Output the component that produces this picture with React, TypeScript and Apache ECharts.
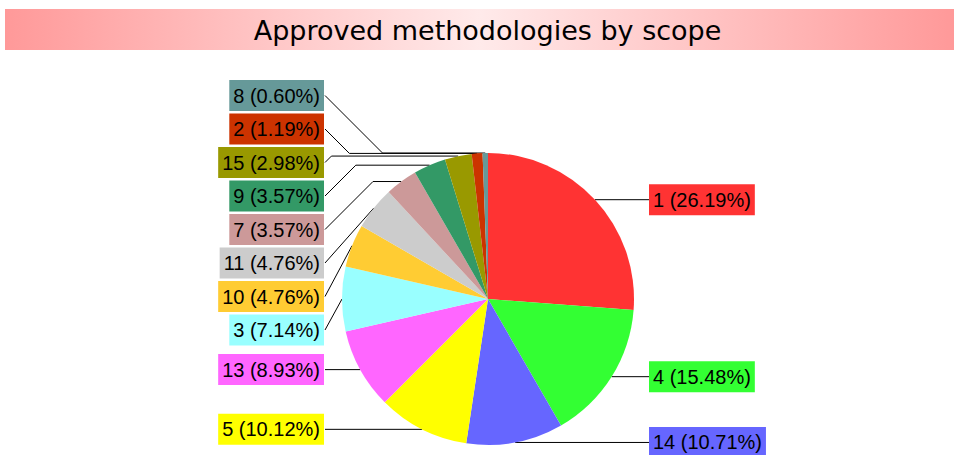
import React, { useEffect, useRef } from "react";
import * as echarts from "echarts";

const titleText = "Approved methodologies by scope";
const categories = ["1", "4", "14", "5", "13", "3", "10", "11", "7", "9", "15", "2", "8"];
const counts = [44, 26, 18, 17, 15, 12, 8, 8, 6, 6, 5, 2, 1];
const colors = [
  "#ff3333", "#33ff33", "#6666ff", "#ffff00", "#ff66ff", "#99ffff", "#ffcc33",
  "#cccccc", "#cc9999", "#339966", "#999900", "#cc3300", "#669999",
];

const W = 954;
const H = 455;
const CX = 488;
const CY = 299;
const R = 146;
const STEP = 33.5;
const LABEL_TOP = 95.5;
const LEFT_GAP = 18;
const RIGHT_GAP = 15;

type Item = { i: number; ex: number; ey: number; left: boolean; y: number };

function computeLayout() {
  const total = counts.reduce((a, b) => a + b, 0);
  let acc = 0;
  const items: Item[] = counts.map((v, i) => {
    const mid = ((acc + v / 2) / total) * Math.PI * 2;
    acc += v;
    const ex = CX + R * Math.sin(mid);
    const ey = CY - R * Math.cos(mid);
    return { i, ex, ey, left: ex < CX - 0.01, y: ey };
  });
  for (const side of [true, false]) {
    const list = items.filter((it) => it.left === side).sort((a, b) => a.ey - b.ey);
    const groups = list.map((it) => ({ items: [it], top: 0 }));
    const place = (g: { items: Item[]; top: number }) => {
      let s = 0;
      g.items.forEach((it, k) => (s += it.ey - k * STEP));
      g.top = Math.max(s / g.items.length, LABEL_TOP);
    };
    groups.forEach(place);
    let merged = true;
    while (merged) {
      merged = false;
      for (let k = 0; k < groups.length - 1; k++) {
        const a = groups[k];
        const b = groups[k + 1];
        if (a.top + a.items.length * STEP > b.top) {
          a.items.push(...b.items);
          groups.splice(k + 1, 1);
          place(a);
          merged = true;
          break;
        }
      }
    }
    groups.forEach((g) => g.items.forEach((it, k) => (it.y = g.top + k * STEP)));
  }
  const out: any[] = [];
  items.forEach((it) => {
    const dy = Math.abs(it.y - it.ey);
    if (it.left) {
      const lx = CX - R - LEFT_GAP;
      const endX = lx + 1;
      const bx = Math.min(it.ex, endX + dy);
      out[it.i] = {
        x: lx,
        y: it.y,
        align: "right",
        verticalAlign: "middle",
        labelLinePoints: [[it.ex, it.ey], [bx, it.ey], [endX, it.y]],
      };
    } else {
      const lx = CX + R + RIGHT_GAP;
      const bx = Math.max(it.ex, lx - dy);
      out[it.i] = {
        x: lx,
        y: it.y,
        align: "left",
        verticalAlign: "middle",
        labelLinePoints: [[it.ex, it.ey], [bx, it.ey], [lx, it.y]],
      };
    }
  });
  return out;
}

export default function App() {
  const ref = useRef<HTMLDivElement>(null);
  useEffect(() => {
    document.body.style.margin = "0";
    if (!ref.current) return;
    const chart = echarts.init(ref.current, undefined, { renderer: "svg" });
    const layouts = computeLayout();
    const total = counts.reduce((a, b) => a + b, 0);
    const data = categories.map((name, i) => ({
      name,
      value: counts[i],
      itemStyle: { color: colors[i] },
      label: { backgroundColor: colors[i] },
    }));
    chart.setOption({
      animation: false,
      graphic: [
        {
          type: "rect",
          shape: { x: 5, y: 9, width: 949, height: 41 },
          style: {
            fill: new echarts.graphic.LinearGradient(0, 0, 1, 0, [
              { offset: 0, color: "#ff9999" },
              { offset: 0.5, color: "#ffeaea" },
              { offset: 1, color: "#ff9999" },
            ]),
          },
          z: 0,
        },
        {
          type: "text",
          x: 487.5,
          y: 30,
          style: {
            text: titleText,
            fill: "#000",
            font: "27px 'DejaVu Sans'",
            textAlign: "center",
            textVerticalAlign: "middle",
          },
          z: 1,
        },
      ],
      series: [
        {
          type: "pie",
          center: [CX, CY],
          radius: R,
          startAngle: 90,
          clockwise: true,
          avoidLabelOverlap: false,
          silent: true,
          itemStyle: { borderWidth: 0 },
          data,
          label: {
            show: true,
            position: "outside",
            formatter: (p: any) => `${p.name} (${((p.value / total) * 100).toFixed(2)}%)`,
            fontFamily: "'Liberation Sans', Arial, sans-serif",
            fontSize: 20,
            lineHeight: 23,
            color: "#000",
            padding: [4, 4, 4, 4],
          },
          labelLine: {
            show: true,
            smooth: false,
            length: 10,
            length2: 10,
            lineStyle: { color: "#000", width: 1 },
          },
          labelLayout: (p: any) => layouts[p.dataIndex],
        },
      ],
    });
    return () => chart.dispose();
  }, []);
  return <div ref={ref} style={{ width: W, height: H }} />;
}
